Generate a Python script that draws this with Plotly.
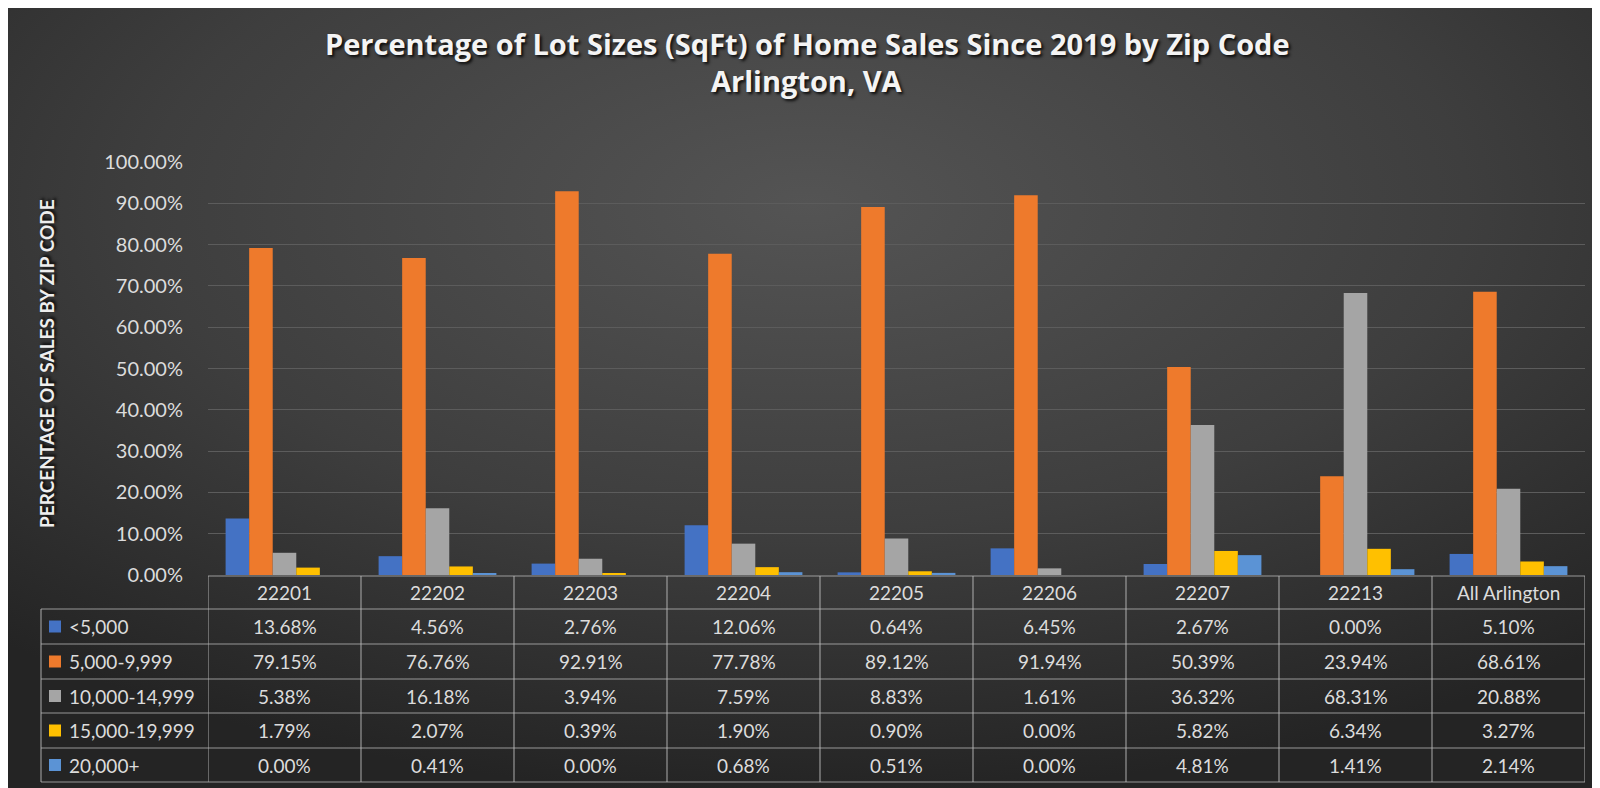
import base64
import plotly.graph_objects as go

# ---------------- data ----------------
zips = ["22201", "22202", "22203", "22204", "22205", "22206", "22207", "22213", "All Arlington"]
series_names = ["<5,000", "5,000-9,999", "10,000-14,999", "15,000-19,999", "20,000+"]
lt_5000 = [13.68, 4.56, 2.76, 12.06, 0.64, 6.45, 2.67, 0.00, 5.10]
s_5000_9999 = [79.15, 76.76, 92.91, 77.78, 89.12, 91.94, 50.39, 23.94, 68.61]
s_10000_14999 = [5.38, 16.18, 3.94, 7.59, 8.83, 1.61, 36.32, 68.31, 20.88]
s_15000_19999 = [1.79, 2.07, 0.39, 1.90, 0.90, 0.00, 5.82, 6.34, 3.27]
s_20000_plus = [0.00, 0.41, 0.00, 0.68, 0.51, 0.00, 4.81, 1.41, 2.14]
series_values = [lt_5000, s_5000_9999, s_10000_14999, s_15000_19999, s_20000_plus]
colors = ["#4472C4", "#EE7A2C", "#A5A5A5", "#FFC000", "#5B93D5"]
title_lines = ["Percentage of Lot Sizes (SqFt) of Home Sales Since 2019 by Zip Code", "Arlington, VA"]

# ---------------- layout geometry ----------------
W, H = 1600, 788
L, R, T, B = 200, 23, 154, 221
PW, PH = W - L - R, H - T - B
PLOT_BOTTOM = H - B


def px(p):
    return (p - L) / PW


def py(p):
    return (PLOT_BOTTOM - p) / PH


FONT = "Lato"
TITLE_FONT = "Open Sans"
TXT = "#dcdcdc"
LINE = "rgba(190,190,190,0.75)"
SHADOW = "2px 2px 3px rgba(0,0,0,0.85)"

fig = go.Figure()
for name, vals, col in zip(series_names, series_values, colors):
    fig.add_trace(go.Bar(
        x=zips, y=[v / 100 for v in vals], name=name,
        marker=dict(color=col, line=dict(width=0)),
        showlegend=False,
    ))

# background gradient (radial, Excel-like dark style)
svg = ('<svg xmlns="http://www.w3.org/2000/svg" width="1600" height="788">'
       '<defs><radialGradient id="g" cx="0.5" cy="0.25" r="0.75">'
       '<stop offset="0" stop-color="#545454"/>'
       '<stop offset="0.55" stop-color="#3e3e3e"/>'
       '<stop offset="1" stop-color="#242424"/>'
       '</radialGradient></defs>'
       '<rect width="1600" height="788" fill="url(#g)"/></svg>')
src = "data:image/svg+xml;base64," + base64.b64encode(svg.encode()).decode()

shapes = []
annotations = []

# table rows (pixel boundaries)
header_top, header_bot = 568, 601
row_edges = [601, 636, 671, 705, 740, 774]
table_left = 33

# horizontal lines
shapes.append(dict(type="line", xref="x", yref="paper", x0=-0.5, x1=len(zips) - 0.5,
                   y0=py(header_top), y1=py(header_top), line=dict(color=LINE, width=1.2)))
for e in row_edges:
    shapes.append(dict(type="line", xref="paper", yref="paper", x0=px(table_left), x1=1,
                       y0=py(e), y1=py(e), line=dict(color=LINE, width=1.2)))
# vertical lines
shapes.append(dict(type="line", xref="paper", yref="paper", x0=px(table_left), x1=px(table_left),
                   y0=py(row_edges[0]), y1=py(row_edges[-1]), line=dict(color=LINE, width=1.2)))
for k in range(len(zips) + 1):
    shapes.append(dict(type="line", xref="x", yref="paper", x0=k - 0.5, x1=k - 0.5,
                       y0=py(header_top), y1=py(row_edges[-1]), line=dict(color=LINE, width=1.2)))

# header labels (category index positions)
for k, z in enumerate(zips):
    annotations.append(dict(x=k, y=py((header_top + header_bot) / 2), xref="x", yref="paper",
                            text=z, showarrow=False, xanchor="center", yanchor="middle",
                            font=dict(family=FONT, size=19, color=TXT)))

# rows: legend key + label + values
for i, (name, vals, col) in enumerate(zip(series_names, series_values, colors)):
    cy = (row_edges[i] + row_edges[i + 1]) / 2
    shapes.append(dict(type="rect", xref="paper", yref="paper", x0=px(41), x1=px(53),
                       y0=py(cy + 6), y1=py(cy - 6), fillcolor=col, line=dict(width=0)))
    annotations.append(dict(x=px(59), y=py(cy), xref="paper", yref="paper",
                            text=name.replace("<", "&lt;"), showarrow=False,
                            xanchor="left", yanchor="middle",
                            font=dict(family=FONT, size=19, color=TXT)))
    for k, v in enumerate(vals):
        annotations.append(dict(x=k, y=py(cy), xref="x", yref="paper",
                                text=f"{v:.2f}%", showarrow=False,
                                xanchor="center", yanchor="middle",
                                font=dict(family=FONT, size=19, color=TXT)))

# y axis title
annotations.append(dict(x=px(38), y=py(356), xref="paper", yref="paper",
                        text="<b>PERCENTAGE OF SALES BY ZIP CODE</b>", showarrow=False,
                        textangle=-90, xanchor="center", yanchor="middle",
                        font=dict(family=FONT, size=19, color="#eeeeee", shadow=SHADOW)))

# chart title (two lines)
for line_text, cy in zip(title_lines, [35, 73]):
    annotations.append(dict(x=px(799), y=py(cy), xref="paper", yref="paper",
                            text=f"<b>{line_text}</b>", showarrow=False,
                            xanchor="center", yanchor="middle",
                            font=dict(family=TITLE_FONT, size=29, color="#f4f4f4", shadow=SHADOW)))

fig.update_layout(
    width=W, height=H,
    margin=dict(l=L, r=R, t=T, b=B, autoexpand=False),
    paper_bgcolor="#333333", plot_bgcolor="rgba(0,0,0,0)",
    barmode="group", bargap=0.23, bargroupgap=0,
    xaxis=dict(type="category", range=[-0.5, len(zips) - 0.5], showticklabels=False,
               showgrid=False, zeroline=False, showline=False, ticks=""),
    yaxis=dict(range=[0, 1], dtick=0.1, tickformat=".2%", showgrid=True,
               gridcolor="#5c5c5c", gridwidth=1.3, zeroline=False, showline=False,
               ticks="", ticklabelstandoff=24,
               tickfont=dict(family=FONT, size=20, color=TXT)),
    images=[dict(source=src, xref="paper", yref="paper", x=px(0), y=py(0),
                 sizex=W / PW, sizey=H / PH, sizing="stretch", xanchor="left",
                 yanchor="top", layer="below")],
    shapes=shapes, annotations=annotations,
)

fig.write_html("out.html")
